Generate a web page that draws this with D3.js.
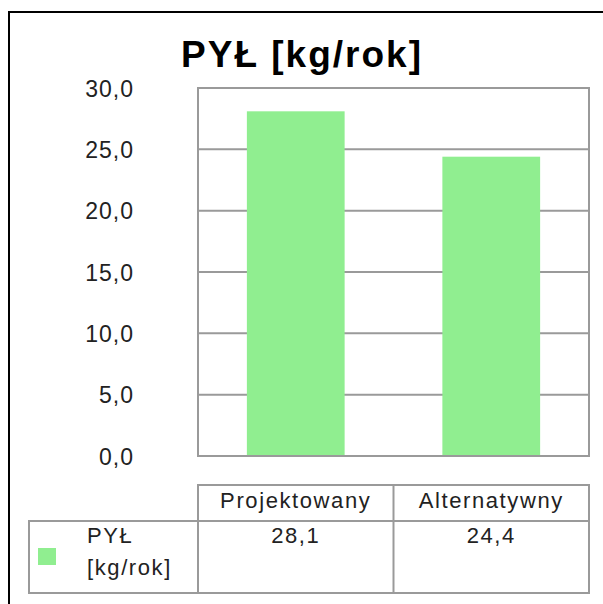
<!DOCTYPE html>
<html>
<head>
<meta charset="utf-8">
<script src="https://cdn.jsdelivr.net/npm/d3@7"></script>
<style>
	body { margin: 0; background: #fff; }
	text { font-family: "Liberation Sans", Arial, sans-serif; fill: #222; }
</style>
</head>
<body>
<svg id="chart" width="603" height="604"></svg>
<script>
/* --------------------------------------------
 * PYL [kg/rok] bar chart with data table
 * ============================================
 */

// data
var TITLE = "PYŁ [kg/rok]";
var CATEGORIES = ["Projektowany", "Alternatywny"];
var SERIES_NAME = ["PYŁ", "[kg/rok]"];
var VALUES = [28.1, 24.4];
var Y_TICKS = [0, 5, 10, 15, 20, 25, 30];

// constants
var BAR_COLOR = "#90ee90";
var GRID_COLOR = "#9a9a9a";
var PLOT_L = 198, PLOT_R = 589, PLOT_T = 88, PLOT_B = 456;
var HEAD_T = 485, ROW_T = 521, ROW_B = 593, TABLE_L = 29;

var fmt = function(v) { return d3.format(".1f")(v).replace(".", ","); };

var svg = d3.select("#chart");

svg.append("rect")
	.attr("width", 603).attr("height", 604)
	.attr("fill", "#fff");

// outer frame (runs off the right and bottom edge)
svg.append("rect")
	.attr("x", 9).attr("y", 12)
	.attr("width", 620).attr("height", 620)
	.attr("fill", "none")
	.attr("stroke", "#000")
	.attr("stroke-width", 2);

// title
svg.append("text")
	.attr("x", 302).attr("y", 67)
	.attr("text-anchor", "middle")
	.style("font-size", "37px")
	.style("font-weight", "bold")
	.style("letter-spacing", "2px")
	.style("fill", "#000")
	.text(TITLE);

// scales
var y = d3.scaleLinear().domain([0, 30]).range([PLOT_B, PLOT_T]);
var x = d3.scaleBand()
	.domain(CATEGORIES)
	.range([PLOT_L, PLOT_R])
	.paddingInner(0.5)
	.paddingOuter(0.25);

// gridlines
svg.append("g").selectAll("line")
	.data(Y_TICKS.slice(1, -1))
	.enter().append("line")
	.attr("x1", PLOT_L).attr("x2", PLOT_R)
	.attr("y1", function(d) { return y(d); })
	.attr("y2", function(d) { return y(d); })
	.attr("stroke", GRID_COLOR)
	.attr("stroke-width", 2);

// bars
svg.append("g").selectAll("rect")
	.data(VALUES)
	.enter().append("rect")
	.attr("x", function(d, i) { return x(CATEGORIES[i]); })
	.attr("y", function(d) { return y(d); })
	.attr("width", x.bandwidth())
	.attr("height", function(d) { return y(0) - y(d); })
	.attr("fill", BAR_COLOR);

// plot border
svg.append("rect")
	.attr("x", PLOT_L).attr("y", PLOT_T)
	.attr("width", PLOT_R - PLOT_L).attr("height", PLOT_B - PLOT_T)
	.attr("fill", "none")
	.attr("stroke", GRID_COLOR)
	.attr("stroke-width", 2);

// y axis labels
var yAxis = d3.axisLeft(y).tickValues(Y_TICKS).tickFormat(fmt).tickSize(0).tickPadding(0);
var yG = svg.append("g")
	.attr("transform", "translate(134,0)")
	.call(yAxis);
yG.select(".domain").remove();
yG.selectAll("text")
	.attr("dy", "0.36em")
	.style("font-size", "23px")
	.style("letter-spacing", "1px")
	.style("font-family", "'Liberation Sans', Arial, sans-serif")
	.attr("fill", "#222");

// data table
var step = x.step();
var colX = function(i) { return PLOT_L + i * step; };
var table = svg.append("g")
	.attr("fill", "none")
	.attr("stroke", GRID_COLOR)
	.attr("stroke-width", 2);

table.append("rect")
	.attr("x", PLOT_L).attr("y", HEAD_T)
	.attr("width", PLOT_R - PLOT_L).attr("height", ROW_T - HEAD_T);
table.append("rect")
	.attr("x", TABLE_L).attr("y", ROW_T)
	.attr("width", PLOT_R - TABLE_L).attr("height", ROW_B - ROW_T);
table.selectAll("line.col")
	.data(d3.range(0, CATEGORIES.length))
	.enter().append("line")
	.attr("class", "col")
	.attr("x1", function(i) { return colX(i); })
	.attr("x2", function(i) { return colX(i); })
	.attr("y1", HEAD_T).attr("y2", ROW_B);

// header + values
svg.append("g").selectAll("text")
	.data(CATEGORIES)
	.enter().append("text")
	.attr("x", function(d, i) { return colX(i) + step / 2; })
	.attr("y", 508)
	.attr("text-anchor", "middle")
	.style("font-size", "22px")
	.style("letter-spacing", "1.6px")
	.text(function(d) { return d; });

svg.append("g").selectAll("text")
	.data(VALUES)
	.enter().append("text")
	.attr("x", function(d, i) { return colX(i) + step / 2; })
	.attr("y", 543)
	.attr("text-anchor", "middle")
	.style("font-size", "22px")
	.style("letter-spacing", "1.6px")
	.text(function(d) { return fmt(d); });

// legend key + series name
svg.append("rect")
	.attr("x", 38).attr("y", 548)
	.attr("width", 18).attr("height", 17)
	.attr("fill", BAR_COLOR);

svg.append("g").selectAll("text")
	.data(SERIES_NAME)
	.enter().append("text")
	.attr("x", 87)
	.attr("y", function(d, i) { return 543 + i * 32; })
	.style("font-size", "22px")
	.style("letter-spacing", "1.6px")
	.text(function(d) { return d; });
</script>
</body>
</html>
